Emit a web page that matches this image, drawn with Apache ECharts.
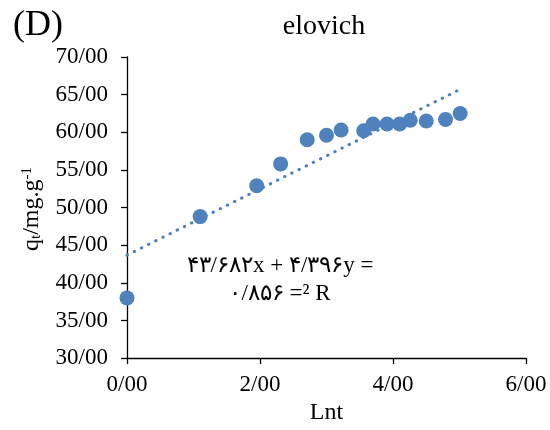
<!DOCTYPE html>
<html>
<head>
<meta charset="utf-8">
<script src="https://cdn.jsdelivr.net/npm/echarts@6/dist/echarts.min.js"></script>
<style>
  html, body { margin: 0; padding: 0; background: #fff; }
  #chart { width: 550px; height: 430px; }
</style>
</head>
<body>
<div id="chart"></div>
<script>
// Elovich kinetic model: q_t against ln t
const lnT = [0, 1.10, 1.95, 2.31, 2.71, 3.00, 3.22, 3.56, 3.70, 3.91, 4.10, 4.26, 4.50, 4.79, 5.01];
const qt  = [38.0, 48.8, 52.9, 55.8, 59.0, 59.6, 60.3, 60.2, 61.1, 61.1, 61.1, 61.6, 61.5, 61.7, 62.5];

// Linear fit reported on the chart
const slope = 4.396;
const intercept = 43.682;
const rSquared = 0.856;
const fitRange = [0, 5.01];

// Axis ticks
const xTicks = [0, 2, 4, 6];
const yTicks = [30, 35, 40, 45, 50, 55, 60, 65, 70];

const FONT = '"Liberation Serif", "Times New Roman", serif';
const BLUE = '#4F81BD';

// Persian digits, "/" as decimal separator
const faDigits = '۰۱۲۳۴۵۶۷۸۹';
const toFa = s => String(s).replace(/[0-9]/g, d => faDigits[+d]).replace('.', '/');
const tickText = v => v.toFixed(2).replace('.', '/');

const points = lnT.map((x, i) => [x, qt[i]]);
const fitLine = fitRange.map(x => [x, intercept + slope * x]);

const eqLine1 = toFa(intercept.toFixed(3)) + 'x + ' + toFa(slope.toFixed(3)) + 'y =';
const eqLine2 = toFa(rSquared.toFixed(3)) + ' =² R';

const chart = echarts.init(document.getElementById('chart'), null, { renderer: 'canvas' });

chart.setOption({
  animation: false,
  backgroundColor: '#fff',
  grid: { left: 127, right: 24, top: 57, bottom: 67.5 },
  xAxis: {
    type: 'value',
    min: xTicks[0],
    max: xTicks[xTicks.length - 1],
    interval: 2,
    splitLine: { show: false },
    axisLine: { show: true, onZero: false, lineStyle: { color: '#000', width: 1.3 } },
    axisTick: { show: true, length: 6, lineStyle: { color: '#000', width: 1.3 } },
    axisLabel: {
      margin: 15,
      color: '#000',
      fontFamily: FONT,
      fontSize: 23,
      formatter: v => tickText(v)
    },
    name: 'Lnt',
    nameLocation: 'middle',
    nameGap: 42,
    nameTextStyle: { color: '#000', fontFamily: FONT, fontSize: 24 }
  },
  yAxis: {
    type: 'value',
    min: yTicks[0],
    max: yTicks[yTicks.length - 1],
    interval: 5,
    splitLine: { show: false },
    axisLine: { show: true, onZero: false, lineStyle: { color: '#000', width: 1.3 } },
    axisTick: { show: true, length: 6, lineStyle: { color: '#000', width: 1.3 } },
    axisLabel: {
      margin: 19,
      color: '#000',
      fontFamily: FONT,
      fontSize: 23,
      formatter: v => tickText(v)
    }
  },
  graphic: [
    {
      type: 'text',
      left: 13, top: 8,
      style: { text: '(D)', fill: '#000', font: '36px ' + FONT }
    },
    {
      type: 'text',
      x: 324, y: 13,
      style: { text: 'elovich', fill: '#000', font: '28px ' + FONT, align: 'center', verticalAlign: 'top' }
    },
    {
      type: 'text',
      x: 32, y: 209,
      rotation: Math.PI / 2,
      style: {
        text: '{m|q}{s|t}{m|/mg.g}{p|-1}',
        align: 'center',
        verticalAlign: 'middle',
        fill: '#000',
        rich: {
          m: { fontFamily: FONT, fontSize: 24, lineHeight: 24, fill: '#000' },
          s: { fontFamily: FONT, fontSize: 15, lineHeight: 9, verticalAlign: 'bottom', fill: '#000' },
          p: { fontFamily: FONT, fontSize: 15, lineHeight: 10, verticalAlign: 'top', fill: '#000' }
        }
      }
    },
    {
      type: 'text',
      x: 280, y: 280,
      style: {
        text: eqLine1 + '\n' + eqLine2,
        align: 'center',
        verticalAlign: 'middle',
        fill: '#000',
        font: '23px ' + FONT,
        lineHeight: 28
      }
    }
  ],
  series: [
    {
      name: 'qt',
      type: 'scatter',
      data: points,
      symbol: 'circle',
      symbolSize: 15,
      itemStyle: { color: BLUE, opacity: 1 },
      z: 2
    },
    {
      name: 'fit',
      type: 'line',
      data: fitLine,
      showSymbol: false,
      symbol: 'none',
      lineStyle: { color: BLUE, width: 3, type: [0.5, 7.5], cap: 'round' },
      z: 3
    }
  ]
});
</script>
</body>
</html>
